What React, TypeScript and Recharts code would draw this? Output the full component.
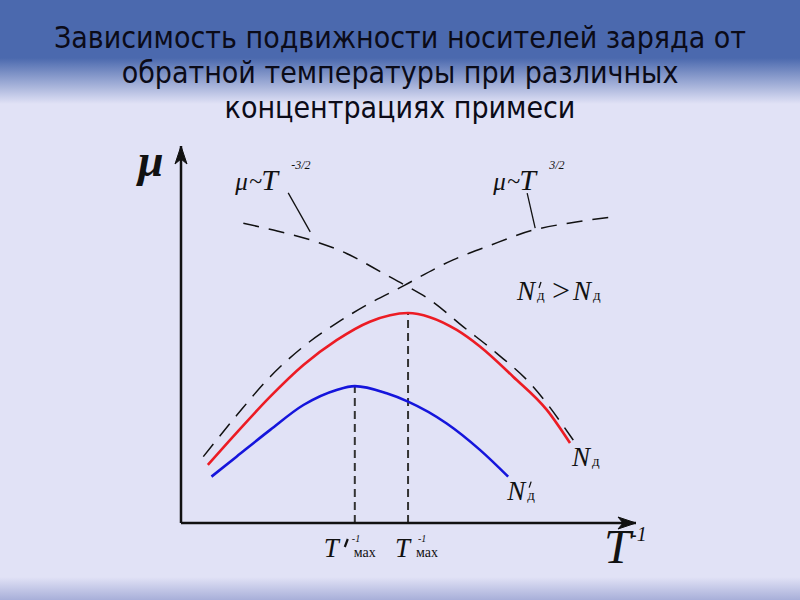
import React from "react";
import { LineChart, Line, XAxis, YAxis } from "recharts";

// inverse temperature (arb. units) and mobility (arb. units)
const redX = [5.9, 12.2, 19.6, 26.9, 34.2, 41.5, 49.9, 54.7, 60.6, 65.7, 73.0, 80.4, 85.5];
const redY = [15.4, 23.9, 33.5, 41.9, 48.5, 53.4, 55.7, 54.6, 51.2, 46.8, 38.8, 30.0, 21.2];

const blueX = [6.7, 12.2, 19.6, 26.9, 34.2, 38.2, 45.2, 49.9, 58.4, 65.7, 71.9];
const blueY = [12.3, 17.6, 24.7, 31.3, 35.3, 36.3, 34.4, 32.2, 26.4, 19.4, 12.3];

// mu ~ T^{3/2} (rising with 1/T)
const riseX = [4.9, 12.2, 19.6, 26.9, 34.2, 41.5, 49.2, 52.5, 59.8, 67.2, 77.4, 85.5, 94.9];
const riseY = [17.6, 28.5, 38.8, 46.8, 53.0, 58.3, 63.1, 65.3, 69.8, 73.3, 77.7, 79.6, 81.2];

// mu ~ T^{-3/2} (falling with 1/T)
const fallX = [13.7, 20.3, 28.4, 36.4, 44.5, 49.2, 54.7, 62.0, 69.4, 76.7, 86.2];
const fallY = [79.5, 77.7, 75.1, 71.5, 66.2, 63.1, 59.2, 52.1, 45.0, 37.1, 22.0];

const titleLines = [
  "Зависимость подвижности носителей заряда от",
  "обратной температуры при различных",
  "концентрациях примеси",
];

const zip = (xs: number[], ys: number[]) => xs.map((x, i) => ({ x, y: ys[i] }));
const peakIndex = (ys: number[]) => ys.indexOf(Math.max(...ys));

const red = zip(redX, redY);
const blue = zip(blueX, blueY);
const rise = zip(riseX, riseY);
const fall = zip(fallX, fallY);

const redPeak = red[peakIndex(redY)];
const bluePeak = blue[peakIndex(blueY)];
const dropRed = [{ x: redPeak.x, y: 0 }, redPeak];
const dropBlue = [{ x: bluePeak.x, y: 0 }, bluePeak];

const SERIF = "'Liberation Serif', 'Times New Roman', serif";
const INK = "#111";

// N with subscript "д"; the prime is drawn as a short stroke so it sits over the subscript
const NdLabel = ({ x, y, prime }: { x: number; y: number; prime?: boolean }) => (
  <g fontFamily={SERIF} fill={INK}>
    <text x={x} y={y} fontSize={27} fontStyle="italic">N</text>
    {prime && <line x1={x + 24} y1={y - 18} x2={x + 22} y2={y - 12} stroke={INK} strokeWidth={1.3} />}
    <text x={x + 20} y={y} fontSize={15}>д</text>
  </g>
);

const endLabel = (last: number, dx: number, dy: number, prime?: boolean) => (p: any) =>
  p.index === last ? <NdLabel key="l" x={p.x + dx} y={p.y + dy} prime={prime} /> : <g key={p.index} />;

const powerLabel = (at: number, sup: string, side: "left" | "right") => (p: any) => {
  if (p.index !== at) return <g key={p.index} />;
  const { x, y } = p;
  const left = side === "left";
  const lx = left ? x - 75 : x - 40;
  const ly = y - (left ? 50 : 40);
  const line = left
    ? { x1: x, y1: y - 8, x2: x - 22, y2: y - 47 }
    : { x1: x + 2, y1: y - 2, x2: x - 6, y2: y - 37 };
  return (
    <g key="pl" fontFamily={SERIF} fill={INK}>
      <line {...line} stroke={INK} strokeWidth={1.3} />
      <text x={lx} y={ly} fontSize={25} fontStyle="italic">μ</text>
      <text x={lx + 14} y={ly - 1} fontSize={24}>~</text>
      <text x={lx + 26} y={ly} fontSize={30} fontStyle="italic">T</text>
      <text x={lx + 56} y={ly - 21} fontSize={12} fontStyle="italic">{sup}</text>
    </g>
  );
};

const TmaxTick = (p: any) => {
  const { x, y, index } = p;
  const primed = index === 0;
  return (
    <g fontFamily={SERIF} fill={INK}>
      <text x={x - (primed ? 31 : 13)} y={y + 34} fontSize={27} fontStyle="italic">T</text>
      {primed && <line x1={x - 7} y1={y + 16} x2={x - 10} y2={y + 24} stroke={INK} strokeWidth={2.2} />}
      <text x={x + (primed ? -3 : 10)} y={y + 19} fontSize={10} fontStyle="italic">-1</text>
      <text x={x + (primed ? -1 : 8)} y={y + 34} fontSize={14}>мах</text>
    </g>
  );
};

export default function App() {
  return (
    <div
      style={{
        position: "absolute",
        left: 0,
        top: 0,
        width: 800,
        height: 600,
        overflow: "hidden",
        background:
          "linear-gradient(to bottom, #4b69ae 0px, #4b69ae 58px, #e1e2f6 104px, #e1e2f6 577px, #a8afd9 600px)",
      }}
    >
      <svg width={0} height={0} style={{ position: "absolute" }}>
        <defs>
          <marker id="arrowHead" markerUnits="userSpaceOnUse" markerWidth={30} markerHeight={20}
            refX={22} refY={8} orient="auto-start-reverse" viewBox="0 0 30 16">
            <path d="M4,2 L22,8 L4,14 L9,8 Z" fill={INK} stroke={INK} strokeWidth={1} strokeLinejoin="round" />
          </marker>
        </defs>
      </svg>
      <div
        style={{
          position: "absolute",
          top: 20,
          left: 0,
          width: 800,
          textAlign: "center",
          fontFamily: "'DejaVu Sans Condensed', 'Liberation Sans Narrow', sans-serif",
          fontStretch: "condensed",
          fontSize: 30,
          lineHeight: "35px",
          color: "#0b0b18",
        }}
      >
        {titleLines.map((t) => (
          <div key={t}>{t}</div>
        ))}
      </div>
      <div style={{ position: "absolute", left: 0, top: 0 }}>
        <LineChart width={800} height={600} margin={{ top: 146, right: 164, bottom: 27, left: 180 }}>
          <XAxis
            type="number"
            dataKey="x"
            domain={[0, 100]}
            ticks={[bluePeak.x, redPeak.x]}
            interval={0}
            height={50}
            tickSize={0}
            tickMargin={0}
            tickLine={false}
            tick={<TmaxTick />}
            axisLine={{ stroke: INK, strokeWidth: 2.5, markerEnd: "url(#arrowHead)" }}
          />
          <YAxis
            type="number"
            dataKey="y"
            domain={[0, 100]}
            width={1}
            tick={false}
            tickLine={false}
            axisLine={{ stroke: INK, strokeWidth: 2.5, markerStart: "url(#arrowHead)" }}
          />
          <Line data={dropRed} dataKey="y" stroke="#333" strokeWidth={2} strokeDasharray="8 5" dot={false} isAnimationActive={false} />
          <Line data={dropBlue} dataKey="y" stroke="#333" strokeWidth={2} strokeDasharray="8 5" dot={false} isAnimationActive={false} />
          <Line data={rise} dataKey="y" type="monotone" stroke={INK} strokeWidth={1.5} strokeDasharray="16 10" dot={false}
            isAnimationActive={false} label={powerLabel(10, "3/2", "right")} />
          <Line data={fall} dataKey="y" type="monotone" stroke={INK} strokeWidth={1.5} strokeDasharray="16 10" dot={false}
            isAnimationActive={false} label={powerLabel(2, "-3/2", "left")} />
          <Line data={red} dataKey="y" type="monotone" stroke="#ec1c24" strokeWidth={2.6} dot={false}
            isAnimationActive={false} label={endLabel(red.length - 1, 2, 23)} />
          <Line data={blue} dataKey="y" type="monotone" stroke="#1515dc" strokeWidth={2.6} dot={false}
            isAnimationActive={false} label={endLabel(blue.length - 1, -1, 23, true)} />
          <text x={138} y={176} fontFamily={SERIF} fontSize={46} fontStyle="italic" fontWeight="bold" fill={INK}>μ</text>
          <text x={604} y={563} fontFamily={SERIF} fontSize={48} fontStyle="italic" fill={INK}>T</text>
          <text x={630} y={541} fontFamily={SERIF} fontSize={20} fontStyle="italic" fill={INK}>-1</text>
          <g>
            <NdLabel x={517} y={300} prime />
            <text x={552} y={301} fontFamily={SERIF} fontSize={32} fill={INK}>&gt;</text>
            <NdLabel x={573} y={300} />
          </g>
        </LineChart>
      </div>
    </div>
  );
}
